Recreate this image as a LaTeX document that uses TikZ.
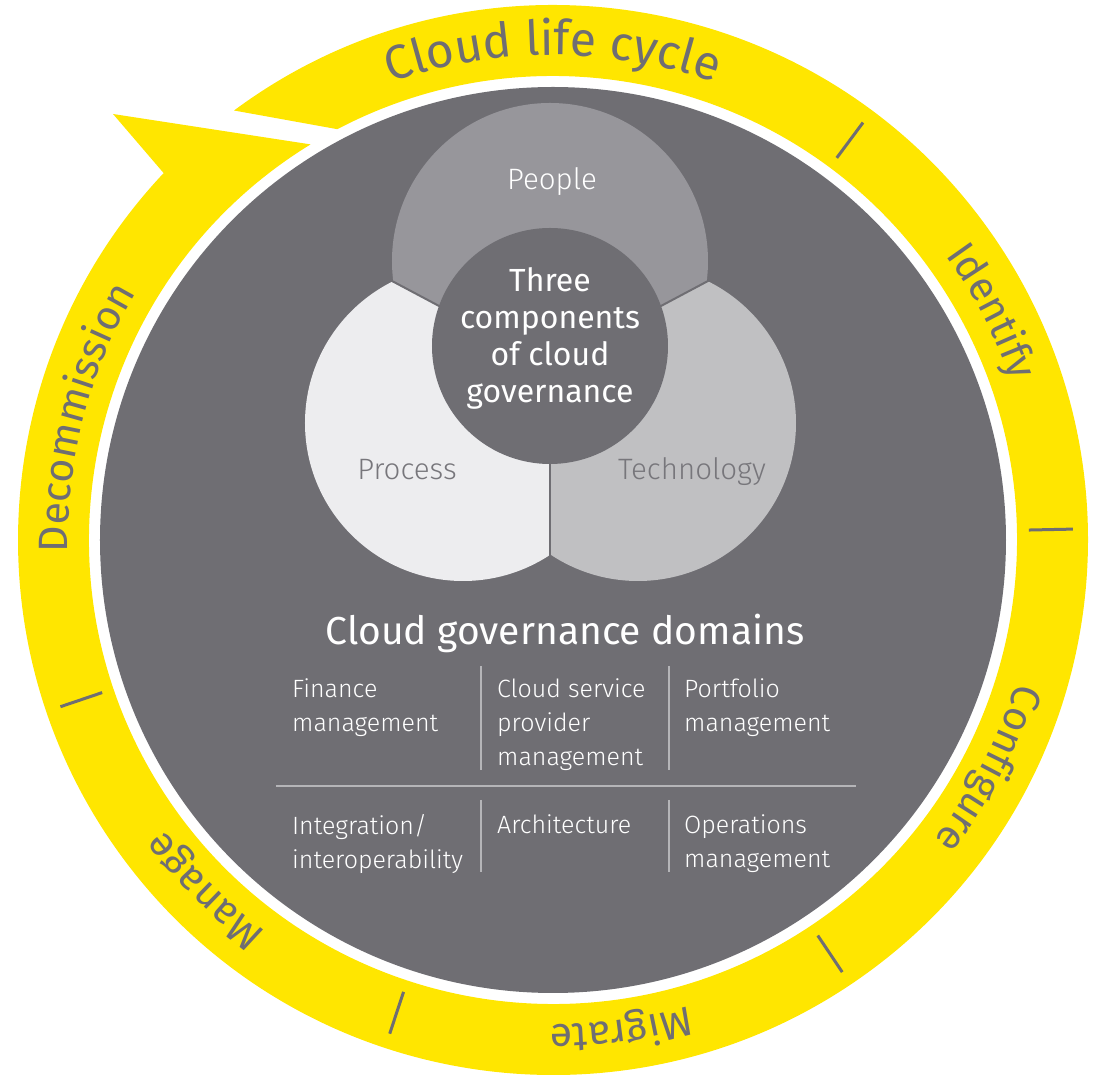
\documentclass[tikz,border=0pt]{standalone}
\usepackage{fontspec}
\setmainfont{Fira Sans}
\newfontfamily\thinfont{Fira Sans Light}
\usetikzlibrary{decorations.text}
\definecolor{eyyellow}{HTML}{FFE600}
\definecolor{eydark}{HTML}{6F6E73}
\definecolor{peoplegray}{HTML}{97969B}
\definecolor{processgray}{HTML}{EDEDEF}
\definecolor{techgray}{HTML}{C0C0C2}
\definecolor{labelgray}{HTML}{77767B}
\definecolor{rulegray}{HTML}{B5B5B8}
\newcommand{\ringfont}{\fontsize{41}{41}\selectfont}
\tikzset{
  ringtext/.style={decorate, decoration={text along path, text align=center, text color=eydark}},
  cell/.style={anchor=north west, align=left, inner sep=0pt, text=white,
    font=\thinfont\fontsize{25}{34}\selectfont},
  part/.style={inner sep=0pt, font=\thinfont\fontsize{29.5}{30}\selectfont},
}
\begin{document}
\begin{tikzpicture}[x=1pt,y=1pt]
\useasboundingbox (-553,-535) rectangle (540,540);
% life cycle ring with its arrow head
\fill[eyyellow] (126.6:535pt) arc[start angle=126.6, end angle=-223.3, radius=535pt]
  -- (-440,426) -- (-238.5:464pt) arc[start angle=-238.5, end angle=117.7, radius=464pt] -- cycle;
\foreach \a in {53.4,1.2,-56.2,-108.3,-161.3}
  \draw[eydark, line width=3pt] (\a:476pt) -- (\a:520pt);
\path[ringtext, decoration={text={|\fontsize{48}{48}\selectfont|Cloud life cycle}}]
  (140:485pt) arc[start angle=140, end angle=40, radius=485pt];
\path[ringtext, decoration={text={|\ringfont|Identify}}]
  (67.5:485pt) arc[start angle=67.5, end angle=-12.5, radius=485pt];
\path[ringtext, decoration={text={|\ringfont|Configure}}]
  (12.3:485pt) arc[start angle=12.3, end angle=-67.7, radius=485pt];
\path[ringtext, decoration={text={|\ringfont|Migrate}}]
  (-42.1:485pt) arc[start angle=-42.1, end angle=-122.1, radius=485pt];
\path[ringtext, decoration={text={|\ringfont|Manage}}]
  (-94.8:485pt) arc[start angle=-94.8, end angle=-174.8, radius=485pt];
\path[ringtext, decoration={text={|\ringfont|Decommission}}]
  (205.4:485pt) arc[start angle=205.4, end angle=125.4, radius=485pt];
% governance disc
\fill[eydark] (0,0) circle[radius=453pt];
\coordinate (hub) at (-3,175);
\begin{scope}
  \clip (hub) -- +(28:400pt) -- +(90:400pt) -- +(152:400pt) -- cycle;
  \fill[peoplegray] (-3,279) circle[radius=158pt];
\end{scope}
\begin{scope}
  \clip (hub) -- +(152:400pt) -- +(210:400pt) -- +(270:400pt) -- cycle;
  \fill[processgray] (-90,117) circle[radius=158pt];
\end{scope}
\begin{scope}
  \clip (hub) -- +(270:400pt) -- +(330:400pt) -- +(28:400pt) -- cycle;
  \fill[techgray] (85,117) circle[radius=158pt];
\end{scope}
\foreach \a in {28,152,270}
  \draw[eydark, line width=2pt] (hub) -- +(\a:200pt);
\fill[eydark] (-3,194) circle[radius=118pt];
\node[part, text=white] (people) at (-1,358) {People};
\node[part, text=labelgray] (process) at (-146,70) {Process};
\node[part, text=labelgray] (technology) at (139,68) {Technology};
\node[align=center, text=white, font=\fontsize{32}{37}\selectfont] (core) at (-3,202)
  {Three\\components\\of cloud\\governance};
% domains
\node[text=white, font=\fontsize{39}{39}\selectfont] (domains) at (12,-93) {Cloud governance domains};
\draw[rulegray, line width=1.5pt] (-277,-246) -- (303,-246);
\foreach \x in {-72,116}{
  \draw[rulegray, line width=1.5pt] (\x,-126) -- (\x,-230);
  \draw[rulegray, line width=1.5pt] (\x,-260) -- (\x,-332);
}
\node[cell] (finance) at (-261,-138) {Finance\\management};
\node[cell] (provider) at (-56,-138) {Cloud service\\provider\\management};
\node[cell] (portfolio) at (131,-138) {Portfolio\\management};
\node[cell] (integration) at (-261,-274) {Integration/\\interoperability};
\node[cell] (architecture) at (-56,-274) {Architecture};
\node[cell] (operations) at (131,-274) {Operations\\management};
\end{tikzpicture}
\end{document}
